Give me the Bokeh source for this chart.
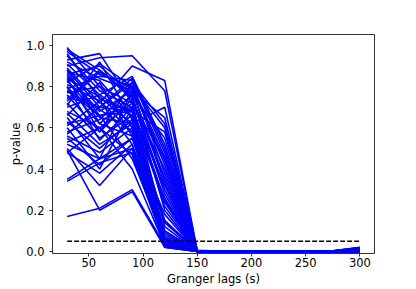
from bokeh.plotting import figure
from bokeh.models import ColumnDataSource, Range1d, FixedTicker, NumeralTickFormatter
from bokeh.embed import file_html
from bokeh.resources import INLINE

lags = [30, 60, 90, 120, 150, 180, 210, 240, 270, 300]

p30 = [0.99, 0.98, 0.97, 0.95, 0.93, 0.90, 0.89, 0.88, 0.87, 0.86, 0.85, 0.84, 0.83, 0.82, 0.81,
       0.80, 0.79, 0.78, 0.77, 0.76, 0.75, 0.74, 0.72, 0.70, 0.68, 0.66, 0.65, 0.63, 0.61, 0.60,
       0.58, 0.56, 0.55, 0.52, 0.50, 0.49, 0.48, 0.48, 0.35, 0.34, 0.17, 0.92, 0.96, 0.86, 0.71,
       0.91, 0.84, 0.78, 0.73, 0.67, 0.62, 0.57, 0.88, 0.80, 0.53]
p60 = [0.80, 0.88, 0.86, 0.78, 0.96, 0.94, 0.72, 0.70, 0.83, 0.90, 0.68, 0.75, 0.65, 0.91, 0.73,
       0.62, 0.85, 0.66, 0.80, 0.58, 0.70, 0.88, 0.55, 0.76, 0.60, 0.82, 0.45, 0.50, 0.73, 0.40,
       0.64, 0.48, 0.42, 0.45, 0.32, 0.20, 0.38, 0.60, 0.45, 0.43, 0.21, 0.84, 0.74, 0.66, 0.92,
       0.76, 0.58, 0.69, 0.87, 0.52, 0.66, 0.70, 0.62, 0.54, 0.60]
p90 = [0.72, 0.75, 0.80, 0.70, 0.72, 0.95, 0.90, 0.84, 0.65, 0.76, 0.78, 0.62, 0.62, 0.80, 0.58,
       0.76, 0.83, 0.70, 0.60, 0.82, 0.68, 0.74, 0.66, 0.85, 0.72, 0.56, 0.78, 0.64, 0.52, 0.70,
       0.80, 0.60, 0.55, 0.50, 0.50, 0.29, 0.52, 0.47, 0.55, 0.48, 0.30, 0.78, 0.68, 0.68, 0.64,
       0.66, 0.74, 0.58, 0.79, 0.62, 0.45, 0.82, 0.56, 0.70, 0.40]
p120 = [0.45, 0.30, 0.60, 0.25, 0.40, 0.78, 0.83, 0.50, 0.15, 0.55, 0.35, 0.05, 0.70, 0.42, 0.03,
        0.20, 0.48, 0.08, 0.10, 0.38, 0.04, 0.28, 0.06, 0.52, 0.12, 0.02, 0.33, 0.07, 0.03, 0.22,
        0.46, 0.05, 0.18, 0.04, 0.10, 0.02, 0.06, 0.03, 0.15, 0.05, 0.03, 0.65, 0.32, 0.58, 0.26,
        0.09, 0.36, 0.04, 0.44, 0.14, 0.06, 0.62, 0.02, 0.24, 0.03]
p150 = [0.0, 0.0, 0.002, 0.0, 0.0, 0.004, 0.0, 0.0, 0.0, 0.0, 0.0, 0.003, 0.0, 0.0, 0.0,
        0.0, 0.0, 0.0, 0.002, 0.0, 0.0, 0.0, 0.0, 0.0, 0.0, 0.0, 0.0, 0.0, 0.0, 0.0,
        0.0, 0.0, 0.0, 0.0, 0.0, 0.0, 0.0, 0.0, 0.0, 0.0, 0.0, 0.005, 0.0, 0.0, 0.0,
        0.0, 0.0, 0.0, 0.0, 0.0, 0.0, 0.0, 0.0, 0.0, 0.0]
p180 = [0.0] * 55
p210 = [0.0] * 55
p240 = [0.0] * 55
p270 = [0.0] * 55
p300 = [0.020, 0.0, 0.012, 0.0, 0.005, 0.0, 0.018, 0.0, 0.008, 0.0, 0.003, 0.015, 0.0, 0.0, 0.010,
        0.0, 0.006, 0.0, 0.0, 0.014, 0.0, 0.002, 0.0, 0.009, 0.0, 0.0, 0.016, 0.0, 0.004, 0.0,
        0.0, 0.011, 0.0, 0.007, 0.0, 0.0, 0.013, 0.0, 0.0, 0.001, 0.0, 0.019, 0.0, 0.006, 0.0,
        0.0, 0.008, 0.0, 0.017, 0.0, 0.0, 0.005, 0.0, 0.012, 0.0]

threshold = 0.05
x_ticks = [50, 100, 150, 200, 250, 300]
y_ticks = [0.0, 0.2, 0.4, 0.6, 0.8, 1.0]

cols = [p30, p60, p90, p120, p150, p180, p210, p240, p270, p300]
n = len(p30)
xs = [list(lags) for _ in range(n)]
ys = [[c[i] for c in cols] for i in range(n)]
src = ColumnDataSource(dict(xs=xs, ys=ys))

FONT = "DejaVu Sans"

p = figure(width=416, height=289, output_backend="svg", toolbar_location=None,
           x_range=Range1d(16.5, 313.5), y_range=Range1d(-0.01, 1.053),
           min_border_left=52, min_border_right=42, min_border_top=34, min_border_bottom=36)

p.multi_line(xs="xs", ys="ys", source=src, line_color="#0000ff", line_width=1.6)
p.line(x=[lags[0], lags[-1]], y=[threshold, threshold], line_color="black",
       line_width=1.5, line_dash="5 2")

p.grid.visible = False
p.outline_line_color = "#333333"
p.outline_line_width = 1
p.background_fill_color = "white"
p.border_fill_color = "white"

for ax in (p.xaxis[0], p.yaxis[0]):
    ax.axis_line_color = "#333333"
    ax.major_tick_line_color = "#333333"
    ax.major_tick_in = 0
    ax.major_tick_out = 3
    ax.minor_tick_line_color = None
    ax.major_label_text_font = FONT
    ax.major_label_text_font_size = "11.5px"
    ax.major_label_text_color = "black"
    ax.axis_label_text_font = FONT
    ax.axis_label_text_font_size = "11.5px"
    ax.axis_label_text_font_style = "normal"
    ax.axis_label_text_color = "black"

p.xaxis.ticker = FixedTicker(ticks=x_ticks)
p.yaxis.ticker = FixedTicker(ticks=y_ticks)
p.yaxis.formatter = NumeralTickFormatter(format="0.0")
p.xaxis.axis_label = "Granger lags (s)"
p.yaxis.axis_label = "p-value"
p.xaxis.major_label_standoff = 1
p.xaxis.axis_label_standoff = 2
p.yaxis.major_label_standoff = 5
p.yaxis.axis_label_standoff = 0

open("out.html", "w").write(file_html(p, INLINE))
